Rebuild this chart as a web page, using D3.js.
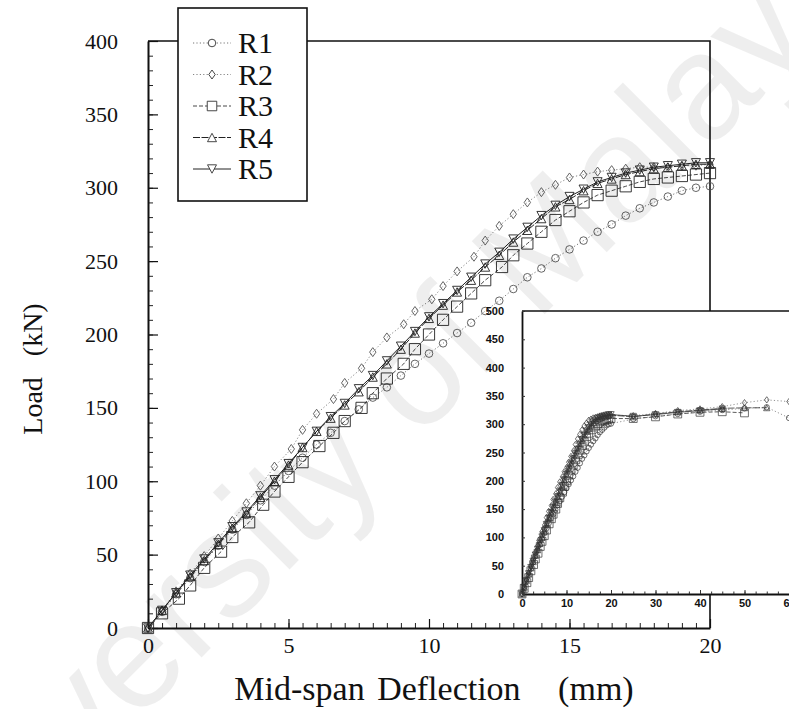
<!DOCTYPE html>
<html><head><meta charset="utf-8">
<script src="https://cdn.jsdelivr.net/npm/d3@7"></script>
<style>body{margin:0;background:#fff}svg{display:block}</style>
</head><body>
<svg id="c" width="789" height="709"></svg>
<script>
// ---------- data (deflection mm, load kN) ----------
const seriesNames = ["R1", "R2", "R3", "R4", "R5"];
const xTicks = [0, 5, 10, 15, 20];
const yTicks = [0, 50, 100, 150, 200, 250, 300, 350, 400];
const insetXTicks = [0, 10, 20, 30, 40, 50, 60];
const insetYTicks = [0, 50, 100, 150, 200, 250, 300, 350, 400, 450, 500];

const r1 = [[0,0],[0.5,11],[1,23],[1.5,34],[2,45],[2.5,56],[3,67],[3.5,77],[4,87],[4.5,97],[5,107],[5.5,116],[6,125],[6.5,133],[7,141],[7.5,149],[8,157],[8.5,164],[9,172],[9.5,180],[10,187],[10.5,194],[11,201],[11.5,208],[12,216],[12.5,223],[13,231],[13.5,239],[14,245],[14.5,252],[15,258],[15.5,264],[16,270],[16.5,275],[17,281],[17.5,286],[18,290],[18.5,294],[19,298],[19.5,300],[20,301]];
const r2 = [[0,0],[0.5,12],[1,25],[1.5,37],[2,49],[2.5,61],[3,73],[3.5,85],[4,97],[4.5,110],[5.1,122],[5.5,135],[6,146],[6.6,156],[7,167],[7.6,177],[8,188],[8.5,198],[9.1,207],[9.5,216],[10.1,224],[10.5,233],[11,243],[11.6,253],[12,264],[12.5,274],[13,282],[13.5,290],[14,297],[14.5,302],[15,307],[15.5,309],[16,311],[16.5,312],[17,313],[17.5,314],[18,314],[18.5,314],[19,315],[19.5,315],[20,316]];
const r3 = [[0,0],[0.5,10],[1.1,20],[1.5,29],[2,41],[2.6,52],[3,62],[3.6,72],[4.1,84],[4.5,93],[5,103],[5.5,113],[6.1,124],[6.6,133],[7,141],[7.6,150],[8,160],[8.5,170],[9.1,180],[9.5,190],[10,200],[10.5,210],[11,219],[11.5,228],[12,237],[12.6,246],[13,254],[13.5,262],[14,270],[14.5,278],[15,284],[15.5,290],[16,295],[16.5,298],[17,301],[17.5,304],[18,306],[18.5,307],[19,308],[19.5,309],[20,310]];
const r4 = [[0,0],[0.5,12],[1,24],[1.5,35],[2,46],[2.5,57],[3,68],[3.5,78],[4,89],[4.5,100],[5,111],[5.5,123],[6,134],[6.5,143],[7,152],[7.5,161],[8,171],[8.5,180],[9,190],[9.5,201],[10,211],[10.5,220],[11,229],[11.5,237],[12,246],[12.5,254],[13,263],[13.5,271],[14,279],[14.5,287],[15,292],[15.5,298],[16,303],[16.5,306],[17,309],[17.5,311],[18,313],[18.5,314],[19,315],[19.5,316],[20,316]];
const r5 = [[0,0],[0.5,12],[1,24],[1.5,36],[2,47],[2.5,58],[3,69],[3.5,79],[4,90],[4.5,101],[5,112],[5.5,123],[6,134],[6.5,144],[7,153],[7.5,163],[8,172],[8.5,182],[9,192],[9.5,202],[10,212],[10.5,221],[11,230],[11.5,239],[12,248],[12.5,256],[13,265],[13.5,273],[14,281],[14.5,288],[15,294],[15.5,299],[16,304],[16.5,307],[17,310],[17.5,312],[18,314],[18.5,315],[19,316],[19.5,317],[20,317]];

// beyond 20 mm (inset only)
const r1Tail = [[25,309],[30,314],[35,318],[40,322],[45,325],[50,328],[55,330],[60,311]];
const r2Tail = [[25,315],[30,319],[35,324],[40,327],[45,331],[50,338],[55,343],[60,340]];
const r3Tail = [[25,310],[30,313],[35,318],[40,321],[45,322],[50,320]];
const r4Tail = [[25,313],[30,318],[35,322],[40,325],[45,328],[50,329],[55,329]];
const r5Tail = [[25,314],[30,317],[35,321],[40,324],[45,327]];

const mainData = [r1, r2, r3, r4, r5];
const tailData = [r1Tail, r2Tail, r3Tail, r4Tail, r5Tail];

// ---------- styles ----------
const styles = [
  {shape:"circle",  dash:"1.2,2.2", color:"#666", width:0.9},
  {shape:"diamond", dash:"1.2,2.2", color:"#777", width:0.9},
  {shape:"square",  dash:"4,2",     color:"#333", width:0.9},
  {shape:"tri",     dash:"7,1.5",   color:"#222", width:1},
  {shape:"trid",    dash:null,      color:"#222", width:1}
];

function symbolPath(shape, s) {
  switch (shape) {
    case "circle": { const r = 3.8*s; return `M${r},0A${r},${r},0,1,1,${-r},0A${r},${r},0,1,1,${r},0Z`; }
    case "diamond": { const w = 3.2*s, h = 4.5*s; return `M0,${-h}L${w},0L0,${h}L${-w},0Z`; }
    case "square": { const a = 5.6*s; return `M${-a},${-a}H${a}V${a}H${-a}Z`; }
    case "tri": { const w = 4.5*s, h = 4.2*s; return `M0,${-h}L${w},${h}L${-w},${h}Z`; }
    case "trid": { const w = 4.5*s, h = 4.2*s; return `M0,${h}L${w},${-h}L${-w},${-h}Z`; }
  }
}

const svg = d3.select("#c");
const serif = "'Liberation Serif','Times New Roman',serif";

// ---------- main chart ----------
const x = d3.scaleLinear().domain([0, 20]).range([148, 710]);
const y = d3.scaleLinear().domain([0, 400]).range([628, 41]);

const main = svg.append("g");

main.append("path")
  .attr("d", `M${x(0)},${y(400)}H${x(20)}V${y(0)}`)
  .attr("fill", "none").attr("stroke", "#111").attr("stroke-width", 1.6);

main.append("g").attr("transform", `translate(0,${y(0)})`)
  .call(d3.axisBottom(x).tickValues(d3.range(0, 20.01, 0.5)).tickSize(-5).tickSizeOuter(0).tickFormat(""))
  .call(g => g.select(".domain").remove())
  .selectAll("line").attr("stroke", "#222").attr("stroke-width", 1);
main.append("g").attr("transform", `translate(${x(0)},0)`)
  .call(d3.axisLeft(y).tickValues(d3.range(0, 400.1, 10)).tickSize(-5).tickSizeOuter(0).tickFormat(""))
  .call(g => g.select(".domain").remove())
  .selectAll("line").attr("stroke", "#222").attr("stroke-width", 1);

const xAxis = main.append("g").attr("transform", `translate(0,${y(0)})`)
  .call(d3.axisBottom(x).tickValues(xTicks).tickSize(-9).tickSizeOuter(0).tickPadding(10).tickFormat(d3.format("d")));
const yAxis = main.append("g").attr("transform", `translate(${x(0)},0)`)
  .call(d3.axisLeft(y).tickValues(yTicks).tickSize(-10).tickSizeOuter(0).tickPadding(30).tickFormat(d3.format("d")));
[xAxis, yAxis].forEach(a => {
  a.select(".domain").attr("stroke", "#111").attr("stroke-width", 2);
  a.selectAll(".tick line").attr("stroke", "#111").attr("stroke-width", 1.2);
  a.selectAll("text").attr("font-family", serif).attr("font-size", 22).attr("fill", "#111");
});
xAxis.selectAll("text").attr("dy", "0.71em").attr("y", 9);

svg.append("text")
  .attr("x", 434).attr("y", 700)
  .attr("text-anchor", "middle")
  .attr("font-family", serif).attr("font-size", 34).attr("fill", "#111")
  .attr("word-spacing", 4)
  .style("white-space", "pre")
  .text("Mid-span Deflection   (mm)");
svg.append("text")
  .attr("transform", "translate(42,369) rotate(-90)")
  .attr("text-anchor", "middle")
  .attr("font-family", serif).attr("font-size", 28).attr("fill", "#111")
  .style("white-space", "pre")
  .text("Load   (kN)");

const line = d3.line().x(d => x(d[0])).y(d => y(d[1]));
mainData.forEach((data, i) => {
  const st = styles[i];
  const g = main.append("g");
  g.append("path").attr("d", line(data)).attr("fill", "none")
    .attr("stroke", st.color).attr("stroke-width", st.width)
    .attr("stroke-dasharray", st.dash);
  g.selectAll("path.m").data(data).join("path").attr("class", "m")
    .attr("transform", d => `translate(${x(d[0])},${y(d[1])})`)
    .attr("d", symbolPath(st.shape, 1))
    .attr("fill", "none").attr("stroke", i < 2 ? "#555" : "#222").attr("stroke-width", 0.9);
});

// legend
const lg = svg.append("g");
lg.append("rect").attr("x", 178).attr("y", 8).attr("width", 129).attr("height", 193)
  .attr("fill", "#fff").attr("stroke", "#111").attr("stroke-width", 1.6);
seriesNames.forEach((name, i) => {
  const st = styles[i];
  const cy = 43 + i * 31.5;
  lg.append("line").attr("x1", 193).attr("x2", 231).attr("y1", cy).attr("y2", cy)
    .attr("stroke", st.color).attr("stroke-width", st.width).attr("stroke-dasharray", st.dash);
  lg.append("path").attr("transform", `translate(212,${cy})`).attr("d", symbolPath(st.shape, st.shape === "square" ? 0.85 : 1))
    .attr("fill", "#fff").attr("stroke", "#333").attr("stroke-width", 0.9);
  lg.append("text").attr("x", 238).attr("y", cy + 10)
    .attr("font-family", serif).attr("font-size", 30).attr("fill", "#111").text(name);
});

// ---------- inset ----------
const xi = d3.scaleLinear().domain([0, 60]).range([522, 789]);
const yi = d3.scaleLinear().domain([0, 500]).range([594, 311]);
const inset = svg.append("g");
inset.append("rect").attr("x", 522).attr("y", 311).attr("width", 280).attr("height", 283).attr("fill", "#fff");
inset.append("line").attr("x1", 522).attr("x2", 789).attr("y1", 311).attr("y2", 311)
  .attr("stroke", "#111").attr("stroke-width", 1.4);
const insetFont = "'Liberation Sans Narrow','Liberation Sans',Arial,sans-serif";
const ixAxis = inset.append("g").attr("transform", `translate(0,${yi(0)})`)
  .call(d3.axisBottom(xi).tickValues(insetXTicks).tickSize(-4).tickSizeOuter(0).tickPadding(4).tickFormat(d3.format("d")));
inset.append("g").attr("transform", `translate(0,${yi(0)})`)
  .call(d3.axisBottom(xi).tickValues(d3.range(0, 60.1, 2.5)).tickSize(-2.5).tickSizeOuter(0).tickFormat(""))
  .call(g => g.select(".domain").remove());
const iyAxis = inset.append("g").attr("transform", `translate(${xi(0)},0)`)
  .call(d3.axisLeft(yi).tickValues(insetYTicks).tickSize(-3).tickSizeOuter(0).tickPadding(18).tickFormat(d3.format("d")));
[ixAxis, iyAxis].forEach(a => {
  a.select(".domain").attr("stroke", "#111").attr("stroke-width", 1.8);
  a.selectAll("text").attr("font-family", insetFont).attr("font-weight", "bold")
    .attr("font-size", 11).attr("fill", "#111");
});
ixAxis.selectAll("text").attr("y", 5);
inset.selectAll(".tick line").attr("stroke", "#333");

const iline = d3.line().x(d => xi(d[0])).y(d => yi(d[1]));
mainData.forEach((data, i) => {
  const st = styles[i];
  const all = data.concat(tailData[i]);
  const g = inset.append("g");
  g.append("path").attr("d", iline(all)).attr("fill", "none")
    .attr("stroke", i < 2 ? "#777" : "#333").attr("stroke-width", 0.8)
    .attr("stroke-dasharray", st.dash);
  g.selectAll("path.m").data(all).join("path").attr("class", "m")
    .attr("transform", d => `translate(${xi(d[0])},${yi(d[1])})`)
    .attr("d", symbolPath(st.shape, 0.7))
    .attr("fill", "none").attr("stroke", "#333").attr("stroke-width", 0.7);
});

// ---------- watermark of the scanned source ----------
svg.append("text")
  .attr("transform", "translate(-77,936) rotate(-45)")
  .attr("font-family", "'Liberation Sans',Arial,sans-serif").attr("font-size", 150)
  .attr("fill", "#000").attr("fill-opacity", 0.065)
  .text("University of Malaya");
</script>
</body></html>
